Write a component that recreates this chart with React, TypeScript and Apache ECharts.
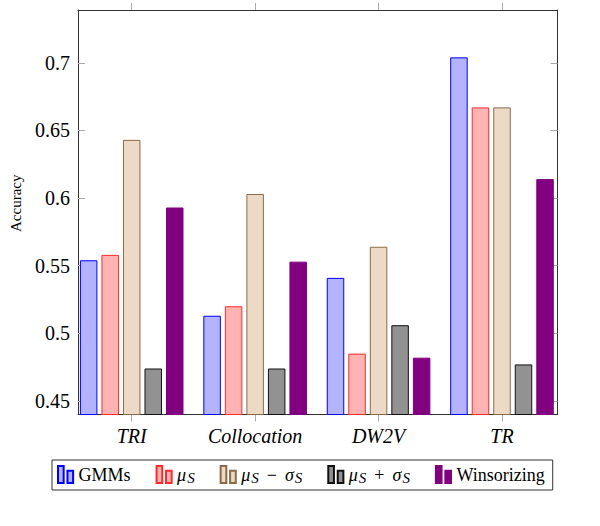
import React, { useEffect, useRef } from 'react';
import * as echarts from 'echarts';

const categories = ['TRI', 'Collocation', 'DW2V', 'TR'];
const gmms = [0.554, 0.513, 0.541, 0.704];
const muS = [0.558, 0.52, 0.485, 0.667];
const muMinusSigma = [0.643, 0.603, 0.564, 0.667];
const muPlusSigma = [0.474, 0.474, 0.506, 0.477];
const winsorizing = [0.593, 0.553, 0.482, 0.614];
const yTicks = [0.45, 0.5, 0.55, 0.6, 0.65, 0.7];

const seriesNames = ['GMMs', 'μS', 'μS − σS', 'μS + σS', 'Winsorizing'];
const legendRich: Record<string, string> = {
  'GMMs': 'GMMs',
  'μS': '{mi|μ}{sub|S}',
  'μS − σS': '{mi|μ}{sub|S}{op|−}{mi|σ}{sub|S}',
  'μS + σS': '{mi|μ}{sub|S}{op|+}{mi|σ}{sub|S}',
  'Winsorizing': 'Winsorizing',
};

const FONT = 'Liberation Serif';

const makeBar = (name: string, values: number[], fill: string, border: string) => ({
  name,
  type: 'bar',
  xAxisIndex: 2,
  yAxisIndex: 2,
  barWidth: 17.5,
  barGap: '23%',
  data: values,
  itemStyle: { color: fill, borderColor: border, borderWidth: 1 },
});

const App: React.FC = () => {
  const chartRef = useRef<HTMLDivElement>(null);

  useEffect(() => {
    document.body.style.margin = '0';
    if (!chartRef.current) return;
    const chart = echarts.init(chartRef.current, null, { renderer: 'svg' });

    const frameX = {
      type: 'value',
      gridIndex: 0,
      min: 0,
      max: 1,
      splitLine: { show: false },
      axisLine: { show: true, onZero: false, lineStyle: { color: '#333', width: 1 } },
      axisTick: { show: false },
      axisLabel: { show: false },
    };
    const catX = {
      type: 'category',
      gridIndex: 1,
      data: categories,
      splitLine: { show: false },
      axisLine: { show: false },
      axisTick: { show: true, alignWithLabel: true, inside: false, length: 7, lineStyle: { color: '#aaa' } },
    };
    const yCommon = {
      type: 'value',
      gridIndex: 0,
      min: 0.44,
      max: 0.739,
      splitLine: { show: false },
      axisLine: { show: true, onZero: false, lineStyle: { color: '#333', width: 1 } },
      axisTick: { show: true, inside: true, length: 7, customValues: yTicks, lineStyle: { color: '#aaa' } },
    };

    chart.setOption({
      animation: false,
      textStyle: { fontFamily: FONT, color: '#000' },
      grid: [
        { left: 76, top: 10, right: 42.5, bottom: 111.5, containLabel: false },
        // bars: a slightly wider band grid, so the group spacing matches the frame
        { left: 70, top: 10, right: 36.3, bottom: 111.5, containLabel: false },
      ],
      legend: {
        data: seriesNames,
        left: 52,
        top: 460,
        orient: 'horizontal',
        selectedMode: false,
        icon: 'path://M0,0H6V18H0Z M10,5H16V18H10Z',
        itemWidth: 16,
        itemHeight: 17,
        itemGap: 25,
        padding: [5, 8, 5, 5],
        borderColor: '#333',
        borderWidth: 1,
        formatter: (name: string) => legendRich[name] ?? name,
        textStyle: {
          fontFamily: FONT,
          fontSize: 18,
          color: '#000',
          rich: {
            mi: { fontFamily: FONT, fontSize: 18, fontStyle: 'italic', color: '#000' },
            sub: { fontFamily: FONT, fontSize: 15, fontStyle: 'italic', color: '#000', verticalAlign: 'bottom', padding: [6, 0, 0, 1] },
            op: { fontFamily: FONT, fontSize: 18, color: '#000', padding: [0, 8, 0, 8] },
          },
        },
      },
      xAxis: [
        { ...frameX, position: 'bottom' },
        { ...frameX, position: 'top' },
        {
          ...catX,
          position: 'bottom',
          axisLabel: {
            margin: 11,
            formatter: (v: string) => `{c|${v}}`,
            rich: {
              c: { fontFamily: FONT, fontSize: 20, fontStyle: 'italic', color: '#000' },
            },
          },
        },
        { ...catX, position: 'top', axisLabel: { show: false } },
      ],
      yAxis: [
        {
          ...yCommon,
          position: 'left',
          name: 'Accuracy',
          nameLocation: 'middle',
          nameRotate: 90,
          nameGap: 55,
          nameTextStyle: { fontFamily: FONT, fontSize: 15, color: '#000', padding: [0, 0, 0, 18] },
          axisLabel: {
            customValues: yTicks,
            margin: 8,
            formatter: (v: number) => `{n|${v}}`,
            rich: {
              n: { fontFamily: FONT, fontSize: 20, color: '#000' },
            },
          },
        },
        { ...yCommon, position: 'right', axisLabel: { show: false } },
        {
          type: 'value',
          gridIndex: 1,
          min: 0.44,
          max: 0.739,
          show: false,
        },
      ],
      series: [
        makeBar(seriesNames[0], gmms, '#b3b3ff', '#0000ff'),
        makeBar(seriesNames[1], muS, '#ffb3b3', '#ff2a2a'),
        makeBar(seriesNames[2], muMinusSigma, '#ecd9c6', '#8c6a48'),
        makeBar(seriesNames[3], muPlusSigma, '#929292', '#111111'),
        makeBar(seriesNames[4], winsorizing, '#800080', '#800080'),
      ],
    });

    return () => {
      chart.dispose();
    };
  }, []);

  return <div ref={chartRef} style={{ width: '600px', height: '526px' }}></div>;
};

export default App;
